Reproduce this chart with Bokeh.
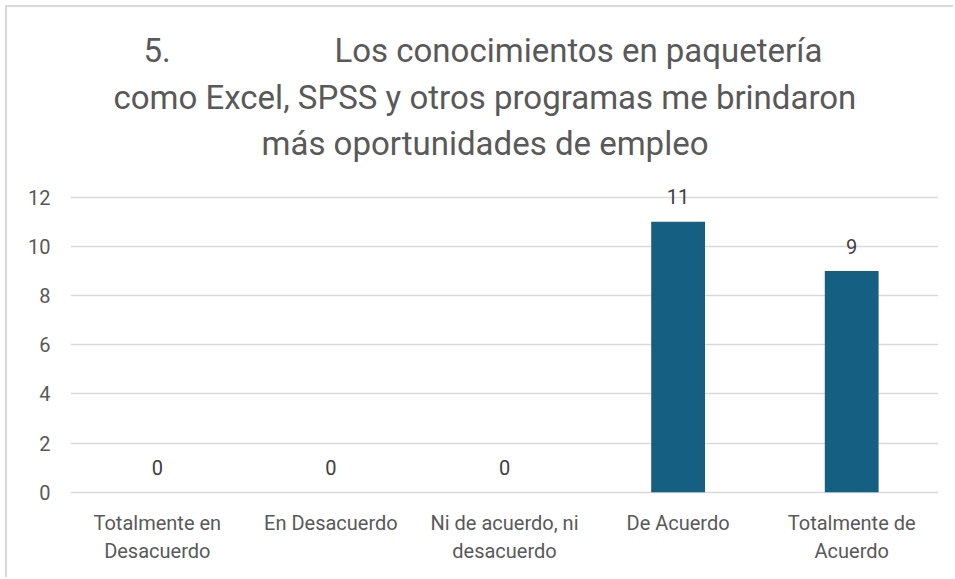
from bokeh.plotting import figure
from bokeh.models import ColumnDataSource, LabelSet, Title, FixedTicker, Range1d
from bokeh.core.properties import value
from bokeh.embed import file_html
from bokeh.resources import INLINE

categories = ["Totalmente en Desacuerdo", "En Desacuerdo", "Ni de acuerdo, ni desacuerdo",
              "De Acuerdo", "Totalmente de Acuerdo"]
tick_labels = ["Totalmente en\nDesacuerdo", "En Desacuerdo", "Ni de acuerdo, ni\ndesacuerdo",
               "De Acuerdo", "Totalmente de\nAcuerdo"]
values = [0, 0, 0, 11, 9]
y_ticks = [0, 2, 4, 6, 8, 10, 12]
title_lines = ["5." + "\u00a0" * 20 + "Los conocimientos en paquetería",
               "como Excel, SPSS y otros programas me brindaron",
               "más oportunidades de empleo"]

FONT = "Roboto"
GREY = "#595959"

line1 = [t.split("\n")[0] for t in tick_labels]
line2 = [t.split("\n")[1] if "\n" in t else "" for t in tick_labels]

src = ColumnDataSource(dict(cat=categories, val=values, lab=[str(v) for v in values],
                            l1=line1, l2=line2, zero=[0] * len(values)))

p = figure(x_range=categories, y_range=Range1d(-3.22, 12.6), width=948, height=572,
           output_backend="svg", toolbar_location=None,
           min_border_left=63, min_border_right=17, min_border_top=175, min_border_bottom=8)
p.styles = {"margin-left": "5px", "margin-top": "5px",
            "border-left": "2px solid #d9d9d9", "border-top": "2px solid #d9d9d9"}
p.outline_line_color = None

p.vbar(x="cat", top="val", width=0.31, source=src, fill_color="#156082", line_color=None)

labels = LabelSet(x="cat", y="val", text="lab", source=src, text_align="center",
                  text_baseline="middle", y_offset=25, text_font=value(FONT),
                  text_font_size="20px", text_color="#404040")
p.add_layout(labels)

for col, off in (("l1", -31), ("l2", -59)):
    p.add_layout(LabelSet(x="cat", y="zero", text=col, source=src, text_align="center",
                          text_baseline="middle", y_offset=off, text_font=value(FONT),
                          text_font_size="20px", text_color=GREY))

standoffs = [41, -28.7, 39]
offsets = [73, 43, 191]
for line, so, off in reversed(list(zip(title_lines, standoffs, offsets))):
    p.add_layout(Title(text=line, align="left", offset=off, standoff=so,
                       text_font=FONT, text_font_size="33px", text_font_style="normal",
                       text_color=GREY), "above")

p.xgrid.grid_line_color = None
p.ygrid.grid_line_color = "#d9d9d9"
p.ygrid.grid_line_width = 1.5

p.yaxis.ticker = FixedTicker(ticks=y_ticks)
p.yaxis.axis_line_color = None
p.yaxis.major_tick_line_color = None
p.yaxis.minor_tick_line_color = None
p.yaxis.major_label_standoff = 14
p.yaxis.major_label_text_font = FONT
p.yaxis.major_label_text_font_size = "20px"
p.yaxis.major_label_text_color = GREY

p.xaxis.visible = False

open("out.html", "w").write(file_html(p, INLINE))
